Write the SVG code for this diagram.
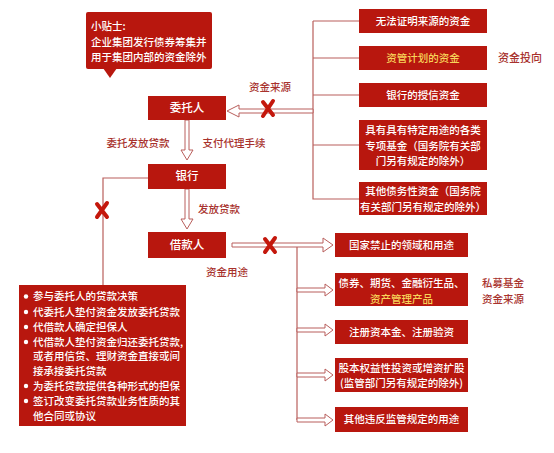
<svg xmlns="http://www.w3.org/2000/svg" width="554" height="453" viewBox="0 0 554 453">
<style>
.box{fill:#b8170e;}
.t{font-family:"Noto Sans CJK SC","Noto Sans",sans-serif;font-size:10.5px;fill:#ffffff;font-weight:500;}
.c{text-anchor:middle;}
.y{fill:#f7d45a;}
.lbl{font-family:"Noto Sans CJK SC","Noto Sans",sans-serif;font-size:10.5px;fill:#a8322d;text-anchor:middle;font-weight:500;}
.ln{fill:none;stroke:#b95f5c;stroke-width:1.2;}
.ha{fill:#ffffff;stroke:#b95f5c;stroke-width:1;}
.x{stroke:#c4170c;stroke-width:4;stroke-linecap:round;fill:none;}
</style>
<rect width="554" height="453" fill="#ffffff"/>
<g id="connectors">
<path class="ln" d="M313,21 V199 H359 M313,21 H359 M313,58 H359 M313,95 H359 M313,145 H359"/>
<polygon class="ha" points="313,109 239,109 239,105 227,111 239,117 239,113 313,113"/>
<path class="x" d="M263,102 L273,115 M273,101 L263,116"/>
<polygon class="ha" points="185,120 189,120 189,150 193,150 187,160 181,150 185,150"/>
<polygon class="ha" points="185,189 189,189 189,219 193,219 187,229 181,219 185,219"/>
<path class="ln" d="M148,178 H103 V285"/>
<path class="x" d="M97,204 L107,217 M107,203 L97,217"/>
<polygon class="ha" points="232,243 323,243 323,238 333,245 323,252 323,247 232,247"/>
<path class="x" d="M265,239 L275,252 M275,238 L265,252"/>
<path class="ln" d="M297,247 V420"/>
<polygon class="ha" points="297,288 325,288 325,284 333,290 325,296 325,292 297,292"/>
<polygon class="ha" points="297,328 325,328 325,324 333,330 325,336 325,332 297,332"/>
<polygon class="ha" points="297,373 325,373 325,369 333,375 325,381 325,377 297,377"/>
<polygon class="ha" points="297,418 325,418 325,414 333,420 325,426 325,422 297,422"/>
</g>
<g id="tip">
<rect class="box" x="86" y="12" width="126" height="57" rx="2"/>
<polygon class="box" points="103,68 117,68 110,78"/>
<text class="t" x="91" y="30">小贴士:</text>
<text class="t" x="91" y="46">企业集团发行债券筹集并</text>
<text class="t" x="91" y="61">用于集团内部的资金除外</text>
</g>
<g id="weituoren">
<rect class="box" x="148" y="96" width="78" height="24"/>
<text class="t c" x="187" y="112" style="font-size:11.5px">委托人</text>
</g>
<g id="yinhang">
<rect class="box" x="148" y="164" width="78" height="25"/>
<text class="t c" x="187" y="180" style="font-size:11.5px">银行</text>
</g>
<g id="jiekuanren">
<rect class="box" x="148" y="232" width="78" height="26"/>
<text class="t c" x="187" y="249" style="font-size:11.5px">借款人</text>
</g>
<g id="labels">
<text class="lbl" x="270" y="91">资金来源</text>
<text class="lbl" x="138" y="147">委托发放贷款</text>
<text class="lbl" x="234" y="147">支付代理手续</text>
<text class="lbl" x="219" y="213">发放贷款</text>
<text class="lbl" x="227" y="276">资金用途</text>
<text class="lbl" x="520" y="62" style="font-size:11px">资金投向</text>
<text class="lbl" x="503" y="287">私募基金</text>
<text class="lbl" x="503" y="303">资金来源</text>
</g>
<g id="src1">
<rect class="box" x="359" y="9" width="128" height="24"/>
<text class="t c" x="423" y="25">无法证明来源的资金</text>
</g>
<g id="src2">
<rect class="box" x="359" y="46" width="128" height="24"/>
<text class="t c y" x="423" y="62">资管计划的资金</text>
</g>
<g id="src3">
<rect class="box" x="359" y="83" width="128" height="24"/>
<text class="t c" x="423" y="99">银行的授信资金</text>
</g>
<g id="src4">
<rect class="box" x="359" y="120" width="128" height="50"/>
<text class="t c" x="423" y="134">具有具有特定用途的各类</text>
<text class="t c" x="423" y="150">专项基金（国务院有关部</text>
<text class="t c" x="423" y="165">门另有规定的除外）</text>
</g>
<g id="src5">
<rect class="box" x="359" y="182" width="128" height="33"/>
<text class="t c" x="423" y="195">其他债务性资金（国务院</text>
<text class="t c" x="423" y="211">有关部门另有规定的除外）</text>
</g>
<g id="use1">
<rect class="box" x="335" y="233" width="133" height="24"/>
<text class="t c" x="401.5" y="249">国家禁止的领域和用途</text>
</g>
<g id="use2">
<rect class="box" x="335" y="273" width="133" height="33"/>
<text class="t c" x="401.5" y="287">债券、期货、金融衍生品、</text>
<text class="t c y" x="401.5" y="303">资产管理产品</text>
</g>
<g id="use3">
<rect class="box" x="335" y="320" width="133" height="24"/>
<text class="t c" x="401.5" y="336">注册资本金、注册验资</text>
</g>
<g id="use4">
<rect class="box" x="335" y="358" width="133" height="34"/>
<text class="t c" x="401.5" y="372">股本权益性投资或增资扩股</text>
<text class="t c" x="401.5" y="387">(监管部门另有规定的除外)</text>
</g>
<g id="use5">
<rect class="box" x="335" y="407" width="133" height="25"/>
<text class="t c" x="401.5" y="423">其他违反监管规定的用途</text>
</g>
<g id="prohibited">
<rect class="box" x="19" y="285" width="167" height="141"/>
<g fill="#ffffff">
<circle cx="26" cy="296.5" r="2.2"/>
<circle cx="26" cy="312" r="2.2"/>
<circle cx="26" cy="327" r="2.2"/>
<circle cx="26" cy="342" r="2.2"/>
<circle cx="26" cy="386" r="2.2"/>
<circle cx="26" cy="401" r="2.2"/>
</g>
<text class="t" x="33" y="300">参与委托人的贷款决策</text>
<text class="t" x="33" y="316">代委托人垫付资金发放委托贷款</text>
<text class="t" x="33" y="331">代借款人确定担保人</text>
<text class="t" x="33" y="346">代借款人垫付资金归还委托贷款,</text>
<text class="t" x="33" y="360">或者用信贷、理财资金直接或间</text>
<text class="t" x="33" y="375">接承接委托贷款</text>
<text class="t" x="33" y="390">为委托贷款提供各种形式的担保</text>
<text class="t" x="33" y="405">签订改变委托贷款业务性质的其</text>
<text class="t" x="33" y="420">他合同或协议</text>
</g>
</svg>
